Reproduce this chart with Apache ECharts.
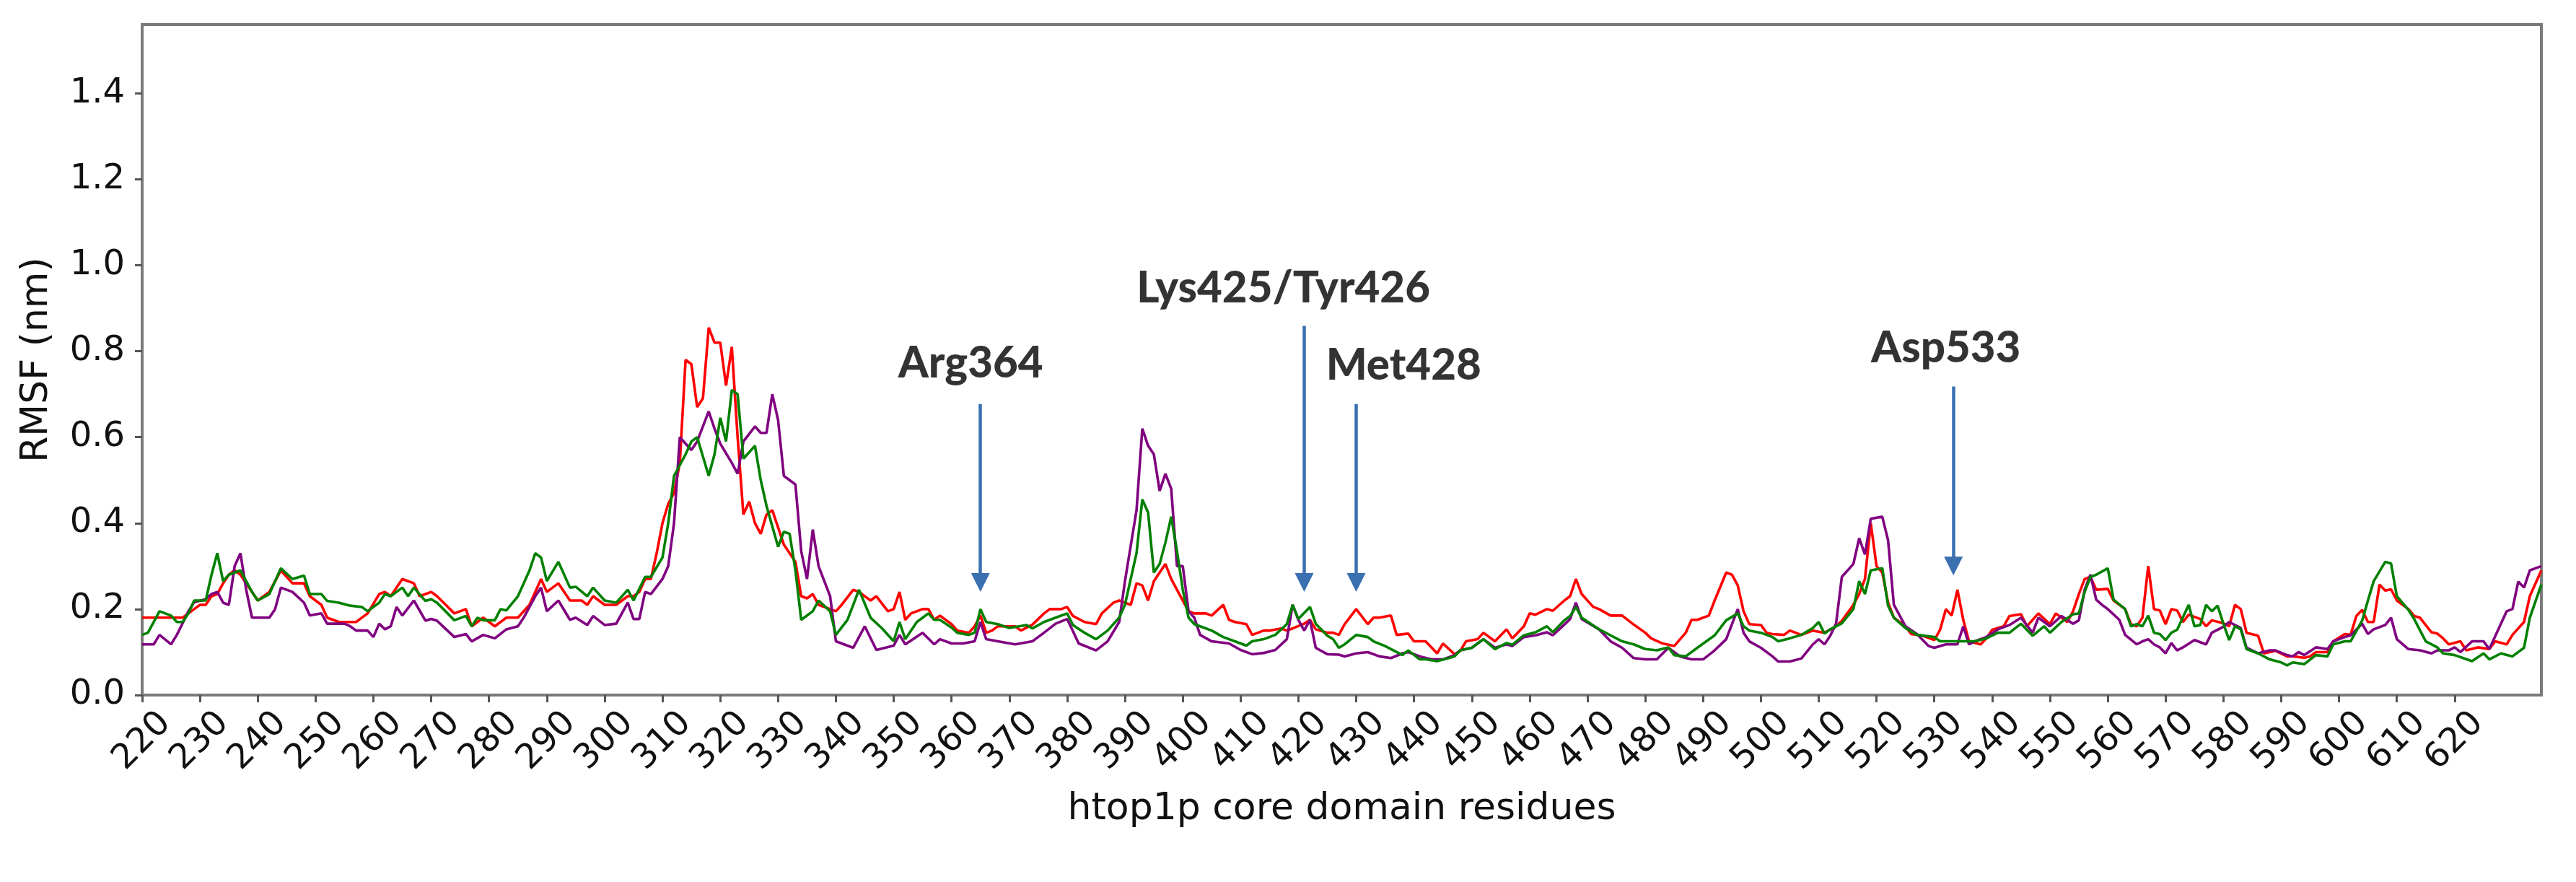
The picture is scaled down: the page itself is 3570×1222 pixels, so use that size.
<!DOCTYPE html>
<html>
<head>
<meta charset="utf-8">
<script src="https://cdn.jsdelivr.net/npm/echarts@6/dist/echarts.min.js"></script>
<style>
  html, body { margin: 0; padding: 0; background: #fff; }
  #chart { width: 3570px; height: 1222px; }
</style>
</head>
<body>
<div id="chart"></div>
<script>
// RMSF per residue, [residue, nm]
var redPts = [[220,0.18],[222,0.18],[224,0.18],[226,0.18],[227,0.18],[228,0.19],[229,0.2],[230,0.21],[231,0.21],[232,0.23],[233,0.235],[234,0.26],[235,0.28],[236,0.29],[237,0.28],[238,0.26],[239,0.24],[240,0.22],[242,0.24],[244,0.29],[245,0.275],[246,0.26],[248,0.26],[249,0.23],[251,0.21],[252,0.18],[254,0.17],[256,0.17],[257,0.17],[259,0.19],[261,0.235],[262,0.24],[263,0.23],[265,0.27],[267,0.26],[268,0.23],[270,0.24],[271,0.23],[274,0.19],[276,0.2],[277,0.16],[279,0.18],[281,0.16],[283,0.18],[285,0.18],[287,0.21],[289,0.27],
  [290,0.24],[292,0.26],[294,0.22],[296,0.22],[297,0.21],[298,0.23],[300,0.21],[302,0.21],[304,0.23],[305,0.23],[306,0.24],[307,0.27],[308,0.27],[309,0.33],[310,0.4],[311,0.445],[312,0.47],[313,0.54],[314,0.78],[315,0.77],[316,0.67],[317,0.69],[318,0.855],[319,0.82],[320,0.82],[321,0.72],[322,0.81],[323,0.6],[324,0.42],[325,0.45],[326,0.4],[327,0.375],[328,0.42],[329,0.43],[330,0.39],[331,0.35],[332,0.33],[333,0.31],[334,0.23],[335,0.225],[336,0.235],[337,0.21],[339,0.2],[340,0.195],[341,0.21],[343,0.245],[344,0.24],[346,0.22],[347,0.23],[349,0.195],[350,0.2],[351,0.24],[352,0.175],[353,0.19],[355,0.2],[356,0.2],[357,0.175],
  [358,0.185],[360,0.165],[361,0.15],[363,0.145],[364,0.16],[365,0.185],[366,0.145],[367,0.15],[368,0.16],[371,0.16],[372,0.15],[374,0.164],[376,0.19],[377,0.2],[379,0.2],[380,0.205],[381,0.184],[383,0.17],[385,0.165],[386,0.19],[388,0.215],[389,0.22],[391,0.21],[392,0.26],[393,0.255],[394,0.22],[395,0.265],[397,0.305],[398,0.27],[399,0.245],[401,0.195],[402,0.19],[404,0.19],[405,0.185],[407,0.21],[408,0.175],[409,0.17],[411,0.165],[412,0.14],[414,0.15],[415,0.15],[417,0.155],[418,0.15],[419,0.155],[421,0.166],[422,0.175],[423,0.153],[425,0.145],[426,0.145],[427,0.14],
  [428,0.165],[430,0.2],[432,0.165],[433,0.18],[434,0.18],[436,0.185],[437,0.14],[439,0.143],[440,0.125],[442,0.125],[444,0.097],[445,0.12],[447,0.095],[448,0.103],[449,0.125],[451,0.13],[452,0.145],[454,0.125],[456,0.153],[457,0.132],[459,0.16],[460,0.19],[461,0.187],[463,0.2],[464,0.196],[466,0.22],[467,0.23],[468,0.27],[469,0.235],[471,0.205],[472,0.2],[474,0.185],[476,0.185],[478,0.164],[480,0.145],[481,0.132],[483,0.12],[485,0.114],[487,0.145],[488,0.175],[489,0.175],[491,0.185],[492,0.22],[494,0.285],[495,0.28],[496,0.255],
  [497,0.195],[498,0.165],[500,0.163],[501,0.145],[502,0.142],[504,0.14],[505,0.15],[506,0.145],[507,0.14],[509,0.15],[511,0.145],[513,0.16],[514,0.173],[516,0.21],[517,0.235],[518,0.27],[519,0.4],[520,0.3],[521,0.285],[522,0.215],[523,0.18],[525,0.16],[526,0.142],[528,0.138],[530,0.128],[531,0.152],[532,0.2],[533,0.185],[534,0.245],[535,0.175],[536,0.125],[538,0.118],[539,0.132],[540,0.152],[542,0.16],[543,0.184],[545,0.188],[546,0.16],[548,0.19],[550,0.165],[551,0.19],[553,0.17],[554,0.195],[555,0.235],[556,0.27],[557,0.275],[558,0.245],[560,0.247],[561,0.22],[563,0.2],[564,0.165],[565,0.16],
  [566,0.18],[567,0.3],[568,0.2],[569,0.197],[570,0.165],[571,0.2],[572,0.197],[573,0.17],[574,0.187],[576,0.177],[577,0.16],[578,0.174],[580,0.167],[581,0.16],[582,0.21],[583,0.2],[584,0.145],[586,0.138],[587,0.097],[589,0.103],[591,0.09],[592,0.09],[594,0.087],[595,0.09],[596,0.1],[598,0.1],[599,0.125],[601,0.142],[602,0.14],[603,0.184],[604,0.198],[605,0.17],[606,0.17],[607,0.257],[608,0.243],[609,0.246],[610,0.22],[612,0.2],[613,0.184],[614,0.18],[616,0.146],[617,0.143],[618,0.132],[619,0.118],[621,0.125],[622,0.104],[624,0.111],[626,0.107],[627,0.125],[629,0.118],[630,0.14],[632,0.17],[633,0.23],[635,0.29]];

var greenPts = [[220,0.14],[221,0.145],[223,0.195],[225,0.185],[226,0.17],[227,0.17],[228,0.19],[229,0.22],[230,0.22],[231,0.22],[232,0.28],[233,0.33],[234,0.265],[235,0.28],[236,0.285],[237,0.29],[238,0.265],[239,0.24],[240,0.22],[242,0.235],[244,0.295],[246,0.27],[248,0.278],[249,0.235],[251,0.235],[252,0.219],[254,0.215],[256,0.208],[258,0.205],[259,0.195],[261,0.215],[262,0.235],[263,0.23],[265,0.25],[266,0.23],[267,0.25],[269,0.219],[270,0.223],[271,0.215],[274,0.174],[276,0.184],[277,0.16],[278,0.18],[279,0.174],[281,0.174],[282,0.2],[283,0.197],[285,0.23],[287,0.29],[288,0.33],[289,0.32],
  [290,0.265],[292,0.31],[294,0.25],[295,0.252],[297,0.23],[298,0.25],[300,0.22],[302,0.215],[304,0.245],[305,0.22],[307,0.275],[308,0.275],[310,0.32],[311,0.4],[312,0.51],[314,0.56],[315,0.59],[316,0.6],[318,0.51],[319,0.56],[320,0.645],[321,0.59],[322,0.71],[323,0.7],[324,0.55],[326,0.58],[327,0.5],[328,0.44],[330,0.345],[331,0.38],[332,0.375],[333,0.29],[334,0.175],[336,0.195],[337,0.22],[339,0.195],[340,0.14],[342,0.175],[344,0.245],[346,0.18],[348,0.155],[350,0.125],[351,0.17],[352,0.13],[354,0.17],[356,0.19],[357,0.175],
  [358,0.175],[360,0.157],[361,0.145],[363,0.14],[364,0.145],[365,0.2],[366,0.17],[368,0.165],[370,0.156],[373,0.163],[374,0.155],[376,0.17],[378,0.18],[380,0.19],[381,0.163],[383,0.145],[385,0.13],[387,0.15],[389,0.18],[390,0.21],[392,0.33],[393,0.455],[394,0.425],[395,0.285],[396,0.305],[397,0.355],[398,0.415],[399,0.335],[400,0.245],[401,0.18],[402,0.165],[405,0.15],[407,0.135],[409,0.125],[411,0.115],[412,0.125],[414,0.13],[416,0.14],[418,0.165],[419,0.21],[420,0.177],[422,0.205],[423,0.166],[425,0.138],[426,0.13],[427,0.11],
  [428,0.118],[430,0.14],[432,0.135],[433,0.125],[435,0.114],[438,0.093],[439,0.104],[441,0.083],[442,0.083],[444,0.079],[446,0.086],[447,0.09],[448,0.104],[450,0.11],[452,0.13],[454,0.107],[456,0.121],[457,0.117],[459,0.139],[461,0.146],[463,0.16],[464,0.146],[466,0.174],[467,0.184],[468,0.205],[469,0.18],[472,0.153],[474,0.139],[476,0.125],[478,0.118],[480,0.107],[482,0.104],[484,0.111],[485,0.093],[487,0.09],[489,0.11],[492,0.139],[494,0.174],[496,0.19],
  [497,0.16],[498,0.15],[500,0.145],[502,0.135],[503,0.125],[505,0.132],[507,0.14],[509,0.156],[510,0.17],[511,0.143],[512,0.153],[514,0.167],[516,0.2],[517,0.265],[518,0.235],[519,0.29],[521,0.295],[522,0.208],[523,0.18],[525,0.156],[527,0.14],[530,0.135],[531,0.125],[534,0.125],[535,0.125],[537,0.125],[539,0.132],[541,0.145],[543,0.145],[545,0.166],[547,0.138],[549,0.16],[550,0.145],[552,0.17],[554,0.188],[555,0.19],[556,0.24],[557,0.275],[558,0.28],[560,0.295],[561,0.222],[563,0.2],[564,0.16],[565,0.165],
  [566,0.16],[567,0.185],[568,0.145],[569,0.142],[570,0.128],[571,0.145],[572,0.152],[574,0.21],[575,0.16],[576,0.163],[577,0.21],[578,0.195],[579,0.208],[580,0.166],[581,0.128],[582,0.16],[583,0.153],[584,0.107],[586,0.097],[588,0.083],[590,0.076],[591,0.069],[592,0.076],[594,0.072],[596,0.093],[598,0.09],[599,0.118],[601,0.125],[602,0.125],[604,0.173],[605,0.22],[606,0.265],[608,0.31],[609,0.306],[610,0.23],[612,0.198],[613,0.177],[615,0.125],[617,0.111],[618,0.097],[620,0.093],[623,0.079],[625,0.097],[626,0.083],[628,0.097],[630,0.09],[632,0.11],[633,0.18],[635,0.257]];

var purplePts = [[220,0.118],[222,0.118],[223,0.14],[225,0.118],[226,0.14],[227,0.167],[228,0.195],[229,0.216],[231,0.223],[232,0.235],[233,0.24],[234,0.215],[235,0.21],[236,0.3],[237,0.33],[238,0.245],[239,0.18],[240,0.18],[242,0.18],[243,0.2],[244,0.25],[246,0.24],[248,0.215],[249,0.185],[251,0.19],[252,0.166],[255,0.166],[256,0.16],[257,0.15],[259,0.15],[260,0.135],[261,0.166],[262,0.153],[263,0.16],[264,0.205],[265,0.185],[267,0.22],[269,0.173],[270,0.177],[271,0.173],[274,0.135],[276,0.142],[277,0.125],[279,0.14],[281,0.132],[283,0.153],[285,0.16],[286,0.18],[288,0.23],[289,0.25],
  [290,0.195],[292,0.22],[294,0.175],[295,0.18],[297,0.163],[298,0.184],[300,0.163],[302,0.166],[304,0.215],[305,0.177],[306,0.177],[307,0.24],[308,0.235],[310,0.27],[311,0.3],[312,0.4],[313,0.6],[315,0.57],[316,0.59],[318,0.66],[319,0.62],[320,0.585],[322,0.54],[323,0.515],[324,0.59],[326,0.625],[327,0.61],[328,0.61],[329,0.7],[330,0.64],[331,0.51],[333,0.49],[334,0.335],[335,0.27],[336,0.385],[337,0.3],[339,0.23],[340,0.125],[343,0.11],[345,0.16],[347,0.105],[350,0.115],[351,0.14],[352,0.118],[355,0.145],[357,0.118],
  [358,0.13],[360,0.12],[362,0.12],[364,0.125],[365,0.17],[366,0.13],[368,0.125],[371,0.118],[374,0.125],[376,0.145],[378,0.166],[380,0.177],[382,0.12],[385,0.104],[387,0.125],[389,0.17],[390,0.265],[392,0.43],[393,0.62],[394,0.58],[395,0.56],[396,0.475],[397,0.515],[398,0.48],[399,0.3],[400,0.3],[401,0.195],[402,0.18],[403,0.14],[405,0.125],[408,0.12],[410,0.105],[412,0.095],[414,0.098],[416,0.105],[418,0.13],[419,0.21],[420,0.175],[421,0.15],[422,0.175],[423,0.11],[425,0.095],[427,0.094],
  [428,0.09],[430,0.097],[432,0.1],[434,0.09],[436,0.086],[438,0.097],[439,0.1],[441,0.09],[443,0.083],[445,0.083],[447,0.093],[448,0.104],[450,0.11],[452,0.13],[454,0.11],[456,0.118],[457,0.114],[459,0.135],[461,0.139],[463,0.146],[464,0.139],[466,0.164],[467,0.177],[468,0.215],[469,0.177],[472,0.153],[474,0.125],[476,0.11],[478,0.086],[480,0.083],[482,0.083],[484,0.11],[486,0.09],[488,0.083],[490,0.083],[492,0.104],[494,0.13],[496,0.2],
  [497,0.145],[498,0.125],[500,0.11],[502,0.09],[503,0.078],[505,0.078],[507,0.085],[509,0.118],[510,0.13],[511,0.118],[512,0.138],[513,0.166],[514,0.275],[516,0.305],[517,0.365],[518,0.327],[519,0.41],[521,0.415],[522,0.36],[523,0.21],[525,0.16],[527,0.142],[529,0.114],[530,0.11],[532,0.118],[534,0.118],[535,0.16],[536,0.118],[537,0.125],[539,0.135],[541,0.153],[543,0.163],[545,0.18],[547,0.145],[548,0.18],[550,0.16],[552,0.184],[554,0.166],[555,0.174],[556,0.245],[557,0.28],[558,0.222],[559,0.21],[560,0.2],[562,0.175],[563,0.14],[565,0.118],[566,0.125],
  [567,0.13],[568,0.118],[569,0.111],[570,0.097],[571,0.121],[572,0.104],[573,0.111],[575,0.128],[577,0.118],[578,0.145],[580,0.159],[581,0.17],[583,0.156],[584,0.11],[586,0.097],[588,0.104],[589,0.104],[591,0.093],[592,0.09],[593,0.1],[594,0.093],[596,0.111],[598,0.107],[599,0.125],[601,0.135],[602,0.139],[604,0.166],[605,0.142],[606,0.153],[608,0.163],[609,0.18],[610,0.13],[612,0.107],[614,0.104],[616,0.097],[617,0.104],[619,0.104],[620,0.111],[621,0.1],[623,0.125],[625,0.125],[626,0.107],[628,0.166],[629,0.195],[630,0.2],[631,0.264],[632,0.25],[633,0.29],[635,0.3]];

// tick labels
var xTicks = [220,230,240,250,260,270,280,290,300,310,320,330,340,350,360,370,380,390,400,410,420,430,440,450,460,470,480,490,500,510,520,530,540,550,560,570,580,590,600,610,620];
var yTicks = [0, 0.2, 0.4, 0.6, 0.8, 1.0, 1.2, 1.4];

// annotations: text anchor [residue, rmsf] and arrow (residue, from, to)
var annoText = ['Arg364', 'Lys425/Tyr426', 'Met428', 'Asp533'];
var annoPos = [[363.3, 0.771], [417.4, 0.946], [438.2, 0.766], [532.0, 0.806]];
var arrowX = [365, 421, 430, 533.3];
var arrowFrom = [0.677, 0.859, 0.677, 0.718];
var arrowTo = [0.262, 0.262, 0.262, 0.3];

var chart = echarts.init(document.getElementById('chart'), null, { renderer: 'canvas' });

var axisFont = 'DejaVu Sans';

var option = {
  backgroundColor: '#fff',
  animation: false,
  grid: {
    left: 197, right: 48, top: 34, bottom: 259,
    show: true, borderColor: '#7a7a7a', borderWidth: 4, backgroundColor: 'transparent'
  },
  xAxis: {
    type: 'value',
    min: 220, max: 635,
    name: 'htop1p core domain residues',
    nameLocation: 'middle',
    nameGap: 132,
    nameTextStyle: { fontFamily: axisFont, fontSize: 52, color: '#111' },
    axisLine: { show: false },
    splitLine: { show: false },
    axisTick: { show: true, length: 10, customValues: xTicks, lineStyle: { color: '#555', width: 3 } },
    axisLabel: {
      customValues: xTicks,
      rotate: 45, align: 'center', verticalAlign: 'middle', margin: 64,
      fontFamily: axisFont, fontSize: 48, color: '#111'
    }
  },
  yAxis: {
    type: 'value',
    min: 0, max: 1.56,
    name: 'RMSF (nm)',
    nameLocation: 'middle',
    nameRotate: 90,
    nameGap: 120,
    nameTextStyle: { fontFamily: axisFont, fontSize: 52, color: '#111' },
    axisLine: { show: false },
    splitLine: { show: false },
    axisTick: { show: true, length: 10, customValues: yTicks, lineStyle: { color: '#555', width: 3 } },
    axisLabel: {
      customValues: yTicks, margin: 24,
      fontFamily: axisFont, fontSize: 48, color: '#111',
      formatter: function (v) { return v.toFixed(1); }
    }
  },
  series: [
    {
      name: 'red', type: 'line', data: redPts, showSymbol: false, z: 3,
      lineStyle: { color: '#ff0000', width: 3.6 }, itemStyle: { color: '#ff0000' }
    },
    {
      name: 'purple', type: 'line', data: purplePts, showSymbol: false, z: 4,
      lineStyle: { color: '#800080', width: 3.6 }, itemStyle: { color: '#800080' }
    },
    {
      name: 'green', type: 'line', data: greenPts, showSymbol: false, z: 5,
      lineStyle: { color: '#008000', width: 3.6 }, itemStyle: { color: '#008000' }
    },
    {
      name: 'notes', type: 'scatter', z: 6, silent: true,
      symbolSize: 1,
      itemStyle: { color: 'rgba(0,0,0,0)' },
      data: annoPos.map(function (p, i) { return { value: p, name: annoText[i] }; }),
      label: {
        show: true, position: 'inside',
        formatter: function (p) { return p.name; },
        fontFamily: 'Lato', fontWeight: 900, fontSize: 60, color: '#000',
        align: 'center', verticalAlign: 'middle'
      },
      markLine: {
        silent: true,
        symbol: ['none', 'triangle'],
        symbolSize: [26, 26],
        label: { show: false },
        lineStyle: { color: '#3a6fb0', width: 4.5, type: 'solid' },
        data: arrowX.map(function (x, i) {
          return [{ coord: [x, arrowFrom[i]] }, { coord: [x, arrowTo[i]] }];
        })
      }
    }
  ]
};

chart.setOption(option);
</script>
</body>
</html>
